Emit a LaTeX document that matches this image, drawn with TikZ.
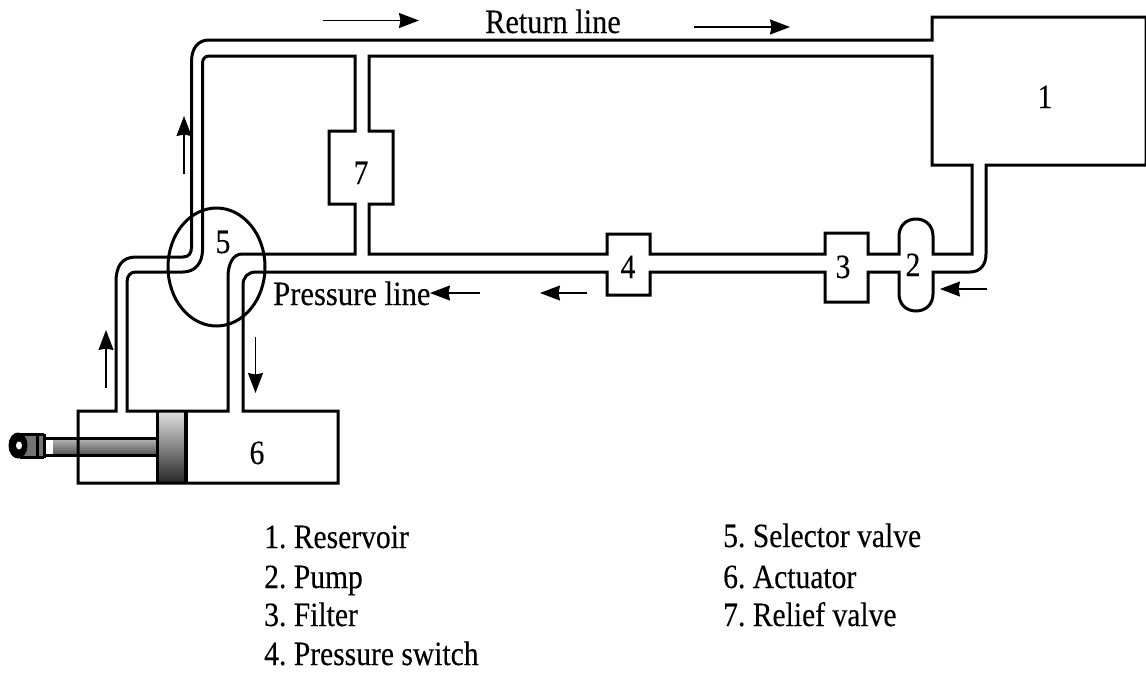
\documentclass[tikz,border=0pt]{standalone}
\usepackage{fontspec}
\setmainfont[FakeStretch=0.87,FakeBold=0.25]{Liberation Serif}
\usetikzlibrary{arrows.meta}
\tikzset{
  pipe/.style={line width=3pt,line join=miter,black},
  flow/.style={line width=1.2pt,-{Stealth[length=20pt,width=15pt,inset=1.5pt]}},
  lab/.style={anchor=base,inner sep=0pt,font=\fontsize{34}{34}\selectfont\frenchspacing,text=black},
  txt/.style={anchor=base west,inner sep=0pt,font=\fontsize{34}{34}\selectfont\frenchspacing,text=black},
}
\begin{document}
\begin{tikzpicture}[x=1pt,y=-1pt]
\useasboundingbox (0,0) rectangle (1146,673);
\fill[white] (0,0) rectangle (1146,673);
% rod and clevis
\shade[top color=black!30,bottom color=black!65] (53,439) rectangle (157,454);
\draw[line width=3pt] (45,438) -- (157,438) (45,455) -- (157,455);
\fill[black!55] (24,435) rectangle (44,457);
\draw[line width=3pt] (37,434) -- (37,458);
\draw[line width=3pt] (44,434) -- (44,458);
\draw[line width=3pt] (20,434.5) -- (44,434.5) (20,457.5) -- (44,457.5);
\fill[black] (18,445.5) ellipse (9.5 and 13);
\fill[white] (19,445.5) ellipse (3 and 4);
% piston
\shade[top color=black!12,bottom color=black!85] (157,411) rectangle (186,483);
\draw[line width=3.5pt] (157.5,411) -- (157.5,483) (186,411) -- (186,483);
% outer contour
\draw[pipe] (78,411) -- (116,411) -- (116,282) .. controls (116,266) and (122,257) .. (136,257)
  -- (183,257) .. controls (189,257) and (191.5,253) .. (191.5,247) -- (191.5,62)
  .. controls (191.5,48) and (198,40) .. (209,40) -- (932,40) -- (932,17) -- (1146,17) -- (1146,165)
  -- (986,165) -- (986,254) .. controls (986,265) and (980,272) .. (970,272) -- (933,272) -- (933,294)
  .. controls (933,304) and (926,311) .. (916,311) .. controls (906,311) and (899,304) .. (899,294)
  -- (899,272) -- (868,272) -- (868,302) -- (825,302) -- (825,272) -- (650,272) -- (650,295)
  -- (607,295) -- (607,272) -- (256,272) .. controls (248,272) and (243,277) .. (243,285)
  -- (243,411) -- (338,411) -- (338,483) -- (78,483) -- cycle;
% loop through the selector valve and relief valve
\draw[pipe] (127,411) -- (127,282) .. controls (127,276) and (130,272) .. (136,272) -- (183,272)
  .. controls (195,272) and (202.5,263) .. (202.5,250) -- (202.5,63)
  .. controls (202.5,59) and (205,56) .. (209,56) -- (355,56) -- (355,131) -- (329,131) -- (329,204)
  -- (355,204) -- (355,254) -- (242,254) .. controls (233,254) and (228,264) .. (228,277)
  -- (228,411) -- cycle;
% inner contour
\draw[pipe] (369,56) -- (932,56) -- (932,165) -- (972,165) -- (972,254) -- (933,254) -- (933,236)
  .. controls (933,226) and (926,219) .. (916,219) .. controls (906,219) and (899,226) .. (899,236)
  -- (899,254) -- (868,254) -- (868,233) -- (825,233) -- (825,254) -- (650,254) -- (650,234)
  -- (607,234) -- (607,254) -- (369,254) -- (369,204) -- (393,204) -- (393,131) -- (369,131) -- cycle;
% selector valve
\draw[pipe] (216.5,267) ellipse (48.5 and 59);
% flow arrows
\draw[flow] (323,20.5) -- (419,20.5);
\draw[flow] (694,27) -- (790,27);
\draw[flow] (184,174) -- (184,116);
\draw[flow] (106,388) -- (106,330);
\draw[flow] (255.5,337) -- (255.5,393);
\draw[flow] (480,293) -- (430,293);
\draw[flow] (587,293) -- (540,293);
\draw[flow] (987,289) -- (940,289);
% component numbers
\node[lab] (n1) at (1045,108) {1};
\node[lab] (n2) at (913,276) {2};
\node[lab] (n3) at (843,278) {3};
\node[lab] (n4) at (628,278) {4};
\node[lab] (n5) at (223,253) {5};
\node[lab] (n6) at (257,464) {6};
\node[lab] (n7) at (361,184) {7};
% labels
\node[txt] (ret) at (485,33) {\scalebox{1.025}[1]{Return line}};
\node[txt] (pre) at (273,305) {\scalebox{1.035}[1]{Pressure line}};
\node[txt] (l1) at (264,548) {1. Reservoir};
\node[txt] (l2) at (264,588) {2. Pump};
\node[txt] (l3) at (264,626) {3. Filter};
\node[txt] (l4) at (264,665) {4. Pressure switch};
\node[txt] (l5) at (723,547) {5. Selector valve};
\node[txt] (l6) at (723,588) {6. Actuator};
\node[txt] (l7) at (723,626) {7. Relief valve};
\end{tikzpicture}
\end{document}
